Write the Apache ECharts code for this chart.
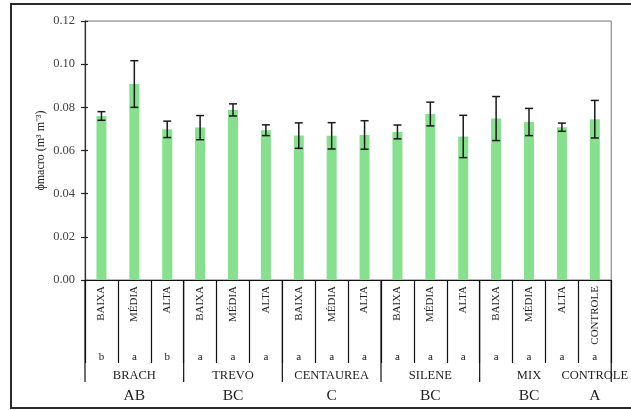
<!DOCTYPE html>
<html>
<head>
<meta charset="utf-8">
<script src="https://cdn.jsdelivr.net/npm/echarts@6/dist/echarts.min.js"></script>
<style>html,body{margin:0;padding:0;background:#fff;overflow:hidden;}#c{width:631px;height:410px;}</style>
</head>
<body>
<div id="c"></div>
<script>
const categories = ['BAIXA','MÉDIA','ALTA','BAIXA','MÉDIA','ALTA','BAIXA','MÉDIA','ALTA','BAIXA','MÉDIA','ALTA','BAIXA','MÉDIA','ALTA','CONTROLE'];
const meanValues = [0.0760,0.0908,0.0698,0.0706,0.0788,0.0694,0.0669,0.0668,0.0672,0.0686,0.0769,0.0665,0.0748,0.0732,0.0708,0.0745];
const errValues = [0.0020,0.0108,0.0038,0.0056,0.0028,0.0025,0.0059,0.0061,0.0066,0.0032,0.0055,0.0098,0.0102,0.0063,0.0019,0.0087];
const letters = ['b','a','b','a','a','a','a','a','a','a','a','a','a','a','a','a'];
const groupLabels = ['','BRACH','','','TREVO','','','CENTAUREA','','','SILENE','','','MIX','','CONTROLE'];
const groupSig = ['','AB','','','BC','','','C','','','BC','','','BC','','A'];
const groupBoundaries = [0,3,6,9,12,16];

const serif = 'Liberation Serif';
const chart = echarts.init(document.getElementById('c'));

const errData = meanValues.map((v,i)=>[i, v-errValues[i], v+errValues[i]]);
const sepData = groupBoundaries.map(b=>[0, 0, b]);

function extraAxis(labels, margin, size){
  return {
    type:'category', data: labels, position:'bottom', gridIndex:0,
    axisLine:{show:false}, axisTick:{show:false},
    axisLabel:{interval:0, margin: margin, fontFamily: serif, fontSize: size, color:'#222', lineHeight: size+1}
  };
}

chart.setOption({
  animation:false,
  backgroundColor:'#fff',
  graphic:[{type:'rect', shape:{x:11,y:4,width:660,height:404}, style:{fill:'none', stroke:'#2a2a2a', lineWidth:2}, z:100}],
  grid:{left:85, right:16, top:21, bottom:130, show:true, borderColor:'#777', borderWidth:1},
  xAxis:[
    {type:'category', data:categories,
     axisLine:{lineStyle:{color:'#111', width:1.2}},
     axisTick:{show:true, interval:0, length:83, lineStyle:{color:'#111', width:1.2}},
     axisLabel:{interval:0, rotate:90, margin:6, fontFamily:serif, fontSize:11, color:'#222'}},
    extraAxis(letters, 71, 11),
    extraAxis(groupLabels, 89, 12.5),
    extraAxis(groupSig, 107.5, 15.5)
  ],
  yAxis:[
    {type:'value', min:0, max:0.12, interval:0.02,
     name:'ϕmacro (m³ m⁻³)', nameLocation:'middle', nameGap:38, nameMoveOverlap:false,
     nameTextStyle:{fontFamily:serif, fontSize:12, color:'#222'},
     axisLine:{show:true, lineStyle:{color:'#333', width:1.2}},
     axisTick:{show:true, length:4, lineStyle:{color:'#222', width:1.2}},
     axisLabel:{margin:10, fontFamily:serif, fontSize:12.5, color:'#444', formatter:v=>v.toFixed(2)},
     splitLine:{show:false}},
    {type:'value', min:0, max:0.12, interval:0.02, position:'left',
     axisLine:{show:false}, axisLabel:{show:false}, splitLine:{show:false},
     axisTick:{show:true, inside:true, length:3, lineStyle:{color:'#222', width:1.2}}}
  ],
  series:[
    {type:'bar', data:meanValues, barWidth:10, itemStyle:{color:'#86E08E'}, z:2},
    {type:'custom', data:errData, encode:{x:0,y:[1,2]}, z:5,
     renderItem:function(params, api){
       const lo = api.coord([api.value(0), api.value(1)]);
       const hi = api.coord([api.value(0), api.value(2)]);
       const x = lo[0], w = 4;
       const st = {stroke:'#1a1a1a', lineWidth:1.5};
       return {type:'group', children:[
         {type:'line', shape:{x1:x,y1:lo[1],x2:x,y2:hi[1]}, style:st},
         {type:'line', shape:{x1:x-w,y1:lo[1],x2:x+w,y2:lo[1]}, style:st},
         {type:'line', shape:{x1:x-w,y1:hi[1],x2:x+w,y2:hi[1]}, style:st}
       ]};
     }},
    {type:'custom', data:sepData, encode:{x:0,y:1}, z:5, clip:false, silent:true,
     renderItem:function(params, api){
       const c0 = api.coord([0, 0]);
       const band = api.size([1, 0])[0];
       const x = c0[0] - band/2 + api.value(2)*band;
       return {type:'line', shape:{x1:x,y1:c0[1],x2:x,y2:c0[1]+102}, style:{stroke:'#111', lineWidth:1.2}};
     }}
  ]
});
</script>
</body>
</html>
